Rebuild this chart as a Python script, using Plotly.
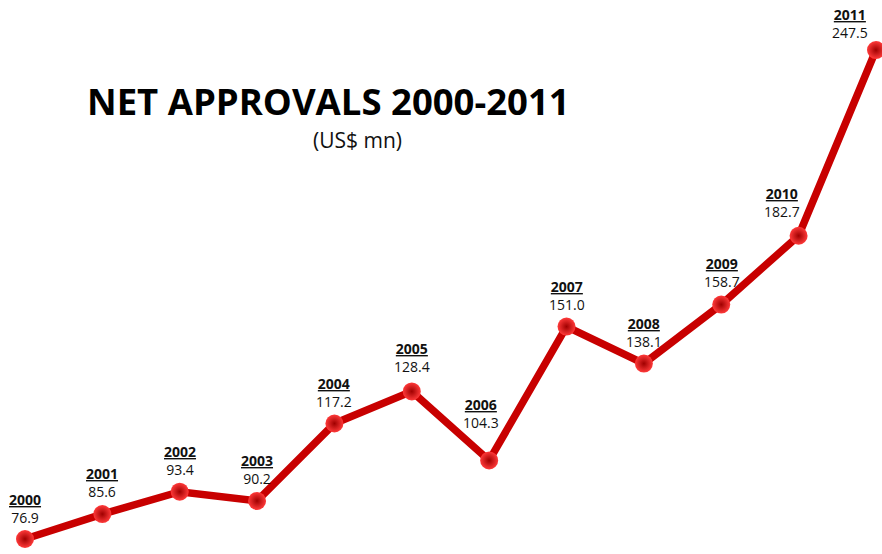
import plotly.graph_objects as go

years = [2000, 2001, 2002, 2003, 2004, 2005, 2006, 2007, 2008, 2009, 2010, 2011]
values = [76.9, 85.6, 93.4, 90.2, 117.2, 128.4, 104.3, 151.0, 138.1, 158.7, 182.7, 247.5]
year_labels = [str(y) for y in years]
value_labels = [f"{v:.1f}" for v in values]

# label placement offsets (pixels), styling only
label_dx = {2006: -8, 2009: 1, 2010: -17, 2011: -26}
label_dy = {2000: 10, 2005: 13, 2006: 26, 2009: 12, 2010: 13, 2011: 6}

fig = go.Figure()
fig.add_trace(go.Scatter(
    x=years, y=values, mode="lines+markers",
    line=dict(color="#c80000", width=7.5),
    marker=dict(size=18, color="#ff3a3a",
                gradient=dict(type="radial", color="#a00000"),
                line=dict(width=0)),
    hoverinfo="skip", showlegend=False,
))

font_family = "Open Sans, Noto Sans, sans-serif"
for i, (x, y) in enumerate(zip(years, values)):
    fig.add_annotation(
        x=x, y=y, xref="x", yref="y",
        text=f"<b><u>{year_labels[i]}</u></b><br>{value_labels[i]}",
        showarrow=False, yanchor="bottom", xanchor="center",
        yshift=label_dy.get(x, 11), xshift=label_dx.get(x, 0),
        font=dict(family=font_family, size=14, color="#111111"),
        align="center",
    )

fig.add_annotation(
    x=328 / 882, y=1 - 101 / 554, xref="paper", yref="paper",
    text="<b>NET APPROVALS 2000-2011</b>", showarrow=False,
    xanchor="center", yanchor="middle",
    font=dict(family=font_family, size=36.5, color="#000000"),
)
fig.add_annotation(
    x=357 / 882, y=1 - 140 / 554, xref="paper", yref="paper",
    text="(US$ mn)", showarrow=False,
    xanchor="center", yanchor="middle",
    font=dict(family=font_family, size=21, color="#111111"),
)

fig.update_layout(
    width=882, height=554,
    margin=dict(l=0, r=0, t=0, b=0),
    paper_bgcolor="white", plot_bgcolor="white",
    xaxis=dict(visible=False, range=[1999.677, 2011.078]),
    yaxis=dict(visible=False, range=[71.67, 264.95]),
)

fig.write_html("out.html")
